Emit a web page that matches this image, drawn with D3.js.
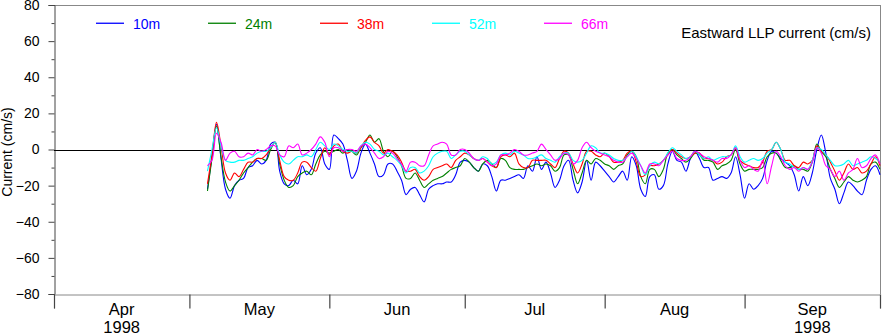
<!DOCTYPE html>
<html><head><meta charset="utf-8">
<script src="https://cdn.jsdelivr.net/npm/d3@7"></script>
<style>body{margin:0;background:#fff}svg{display:block;font-family:"Liberation Sans",Arial,Helvetica,sans-serif}</style>
</head><body><svg id="c" width="882" height="336"></svg>
<script>
// ---------- data ----------
const seriesNames = ["10m", "24m", "38m", "52m", "66m"];
const startDate = "1998-05-05"; // daily values from this date
const v10m = [
 -22,-4,14,-5,-22,-27,-20,-17,-16,-10,-9,-6,-8,-6,3,4,-12,-19,-20,-17,-19,-9,-14,-11,-2,1,-8,
 -11,8,6,3,-6,-16,-12,-2,3,-2,-8,-15,-14,-8,-8,-12,-17,-25,-22,-21,-25,-29,-22,-20,-19,-19,-18,-18,-14,-7,
 -6,-7,-10,-12,-8,-9,-15,-23,-17,-17,-16,-15,-14,-16,-9,-12,-4,-11,-7,-13,-21,-17,-9,-6,-17,-24,-18,-6,-17,-7,-9,
 -12,-15,-18,-15,-12,-17,-4,-9,-22,-26,-15,-14,-22,-20,-8,-1,-6,-7,-12,-5,-1,-5,-10,-10,-17,-16,-15,-16,-13,-4,-14,
 -27,-19,-22,-20,-16,-6,-1,-2,-5,-7,-9,-14,-23,-15,-20,-13,0,8,-2,-16,-22,-30,-24,-18,-20,-23,-25,-17,-11,-9,
 -14];
const v24m = [
 -23,-5,13,-4,-18,-23,-20,-17,-13,-10,-7,-5,-5,-6,0,4,-8,-17,-21,-20,-15,-13,-12,-14,-8,-3,-1,
 -2,-1,0,-2,0,-1,-3,1,4,8,4,6,-1,-4,-1,-4,-9,-16,-16,-13,-17,-21,-19,-17,-16,-15,-13,-11,-10,-9,
 -5,-7,-10,-12,-8,-6,-8,-10,-5,-6,-10,-11,-11,-11,-10,-9,-8,-9,-8,-9,-12,-10,-3,-3,-11,-19,-13,-6,-8,-5,-6,
 -8,-9,-11,-9,-8,-3,-1,-4,-15,-19,-11,-11,-15,-11,-2,0,-3,-5,-7,-5,-2,-3,-6,-6,-7,-11,-9,-8,-6,0,-8,
 -12,-11,-11,-11,-10,-4,-2,-2,-6,-10,-10,-9,-11,-11,-12,-7,3,-1,-4,-11,-16,-21,-18,-15,-17,-18,-17,-15,-8,-7,
 -11];
const v38m = [
 -19,-3,15,2,-13,-17,-13,-15,-11,-7,-7,-5,-5,-3,1,4,-6,-15,-17,-17,-13,-7,-7,-10,-12,-5,1,
 -3,2,3,-1,-2,-1,-2,1,5,7,4,2,-2,0,-1,-3,-7,-12,-12,-11,-15,-17,-15,-11,-10,-9,-8,-10,-6,-4,
 -2,-3,-5,-6,-5,-7,-9,-10,-4,-3,-4,-2,-8,-10,-10,-6,-6,-6,-6,-8,-10,-5,-1,-2,-8,-13,-8,-1,-1,-3,-4,
 -2,-4,-7,-7,-6,-2,-1,-7,-15,-14,-9,-9,-8,-6,-3,0,-2,-4,-5,-4,-2,-2,-5,-5,-6,-8,-7,-4,-3,1,-6,
 -8,-9,-10,-10,-7,-1,0,4,0,-6,-6,-9,-10,-7,-8,-6,2,-1,-3,-7,-12,-17,-13,-8,-11,-10,-13,-12,-8,-4,
 -9];
const v52m = [
 -12,0,12,2,-6,-7,-7,-6,-6,-5,-4,-2,-1,-1,1,4,-3,-7,-8,-6,-4,-4,-3,-4,0,4,2,
 0,3,2,0,-1,-1,-2,2,4,3,0,-1,-3,-2,-4,-6,-9,-13,-10,-10,-13,-12,-9,-4,-2,-1,-1,-5,-3,-1,
 -1,-3,-5,-6,-4,-5,-8,-7,-3,-2,-3,-1,-2,-3,-5,-5,-4,-3,-5,-6,-7,-4,-2,-2,-6,-7,-6,-2,2,1,-2,
 -2,-3,-5,-6,-6,-4,-1,-4,-9,-14,-9,-7,-8,-6,-2,1,-1,-3,-5,-4,-1,-3,-5,-4,-6,-5,-4,-4,-3,2,-4,
 -7,-6,-5,-6,-5,-2,0,4,0,-7,-8,-10,-11,-10,-11,-6,1,0,-3,-6,-9,-9,-8,-6,-9,-8,-7,-6,-4,-5,
 -7];
const v66m = [
 -9,-6,9,4,-6,-2,-1,-4,-4,-2,-3,0,-1,0,2,2,-3,-4,2,1,3,-3,-2,0,3,7,4,
 -4,1,1,-1,0,0,-1,2,3,1,-2,-5,-4,-1,-2,-5,-8,-12,-7,-7,-9,-9,-3,2,3,4,3,-3,-3,0,
 0,-2,-5,-6,-5,-7,-9,-8,-3,-3,-2,0,-1,-3,-3,-2,-1,3,0,-3,-6,-5,-2,-3,-8,-6,1,4,1,-1,-2,
 -3,-4,-6,-7,-7,-4,-2,-5,-9,-13,-8,-8,-9,-6,-3,-1,-5,-6,-6,-4,-1,-2,-4,-5,-6,-7,-5,-5,-3,1,-6,
 -10,-9,-11,-12,-6,-19,-9,-1,-4,-9,-11,-10,-12,-10,-11,-7,1,-2,-9,-11,-15,-12,-17,-13,-11,-5,-10,-9,-5,-3,
 -8];
const seriesValues = [v10m, v24m, v38m, v52m, v66m];
const yMajorTicks = [-80, -60, -40, -20, 0, 20, 40, 60, 80];
const yMinorTicks = [-70, -50, -30, -10, 10, 30, 50, 70];
const monthTicks = ["1998-04-01","1998-05-01","1998-06-01","1998-07-01","1998-08-01","1998-09-01","1998-10-01"];
const monthLabels = [["Apr","1998"],["May"],["Jun"],["Jul"],["Aug"],["Sep","1998"]];
const chartTitle = "Eastward LLP current (cm/s)";
const yTitle = "Current (cm/s)";

// ---------- styles ----------
const colors = ["#0000ff", "#008000", "#ff0000", "#00ffff", "#ff00ff"];
const L = 54, R = 880, T = 5, B = 294;

const svg = d3.select("#c");
const parse = d3.utcParse("%Y-%m-%d");
const t0 = parse(startDate);
const dates = seriesValues[0].map((_, i) => d3.utcDay.offset(t0, i));

const x = d3.scaleUtc().domain([parse(monthTicks[0]), parse(monthTicks[monthTicks.length - 1])]).range([L, R]);
const y = d3.scaleLinear().domain([-80, 80]).range([B, T]);

// frame (top & right)
svg.append("line").attr("x1", L).attr("x2", R).attr("y1", T + 0.5).attr("y2", T + 0.5).attr("stroke", "#888").attr("stroke-width", 1);
svg.append("line").attr("x1", R + 0.5).attr("x2", R + 0.5).attr("y1", T).attr("y2", B).attr("stroke", "#888").attr("stroke-width", 1);

// y axis major
const gy = svg.append("g").attr("transform", `translate(${L + 0.5},0)`)
  .call(d3.axisLeft(y).tickValues(yMajorTicks).tickSize(6).tickPadding(9).tickFormat(d3.format("d")));
gy.select(".domain").attr("stroke", "#444");
gy.selectAll(".tick line").attr("stroke", "#444");
gy.selectAll(".tick text").attr("font-size", 14).attr("fill", "#000").attr("font-family", "Liberation Sans, Arial, sans-serif");
// y axis minor
const gym = svg.append("g").attr("transform", `translate(${L + 0.5},0)`)
  .call(d3.axisLeft(y).tickValues(yMinorTicks).tickSize(3).tickFormat(""));
gym.select(".domain").remove();
gym.selectAll(".tick line").attr("stroke", "#444");

// x axis
const gx = svg.append("g").attr("transform", `translate(0,${B + 0.5})`)
  .call(d3.axisBottom(x).tickValues(monthTicks.map(parse)).tickSize(14).tickFormat(""));
gx.select(".domain").attr("stroke", "#888");
gx.selectAll(".tick line").attr("stroke", "#444").attr("stroke-width", 1.2);

// month labels
const mt = monthTicks.map(parse);
monthLabels.forEach((lines, i) => {
  const cx = (x(mt[i]) + x(mt[i + 1])) / 2;
  lines.forEach((s, j) => {
    svg.append("text").attr("x", cx).attr("y", 315 + j * 17.5).attr("text-anchor", "middle")
      .attr("font-size", 16.5).attr("fill", "#000").text(s);
  });
});

// y title
svg.append("text").attr("transform", "translate(12,152) rotate(-90)").attr("text-anchor", "middle")
  .attr("font-size", 14).attr("fill", "#000").text(yTitle);

// zero line
svg.append("line").attr("x1", L).attr("x2", R).attr("y1", Math.round(y(0)) + 0.5).attr("y2", Math.round(y(0)) + 0.5)
  .attr("stroke", "#000").attr("stroke-width", 1);

// series
const lineGen = d3.line().x((d, i) => x(dates[i])).y(d => y(d)).curve(d3.curveCatmullRom.alpha(0.5));
seriesValues.forEach((vals, k) => {
  svg.append("path").datum(vals).attr("d", lineGen).attr("fill", "none")
    .attr("stroke", colors[k]).attr("stroke-width", 1.1).attr("stroke-linejoin", "round");
});

// legend
seriesNames.forEach((n, k) => {
  const lx = 96 + k * 112;
  svg.append("rect").attr("x", lx).attr("y", 22.6).attr("width", 28).attr("height", 1.3)
    .style("fill", colors[k]);
  svg.append("text").attr("x", lx + 37).attr("y", 29).attr("font-size", 14).style("fill", colors[k]).text(n);
});

// title
svg.append("text").attr("x", 871).attr("y", 38).attr("text-anchor", "end").attr("font-size", 15)
  .attr("fill", "#000").text(chartTitle);
</script>
</body></html>
